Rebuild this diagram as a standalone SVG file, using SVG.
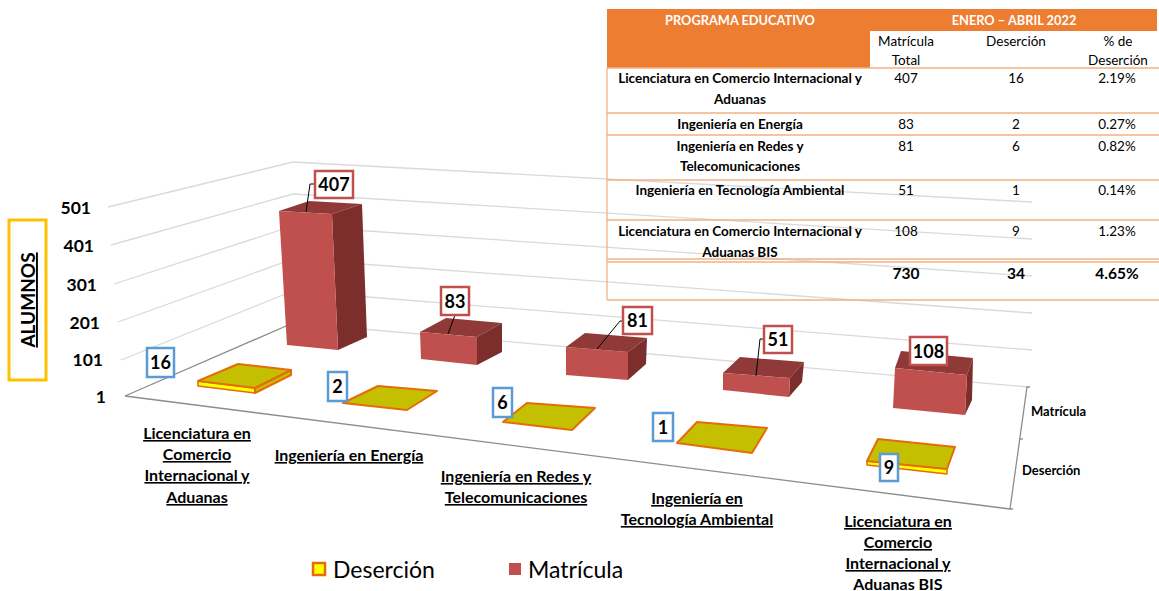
<svg xmlns="http://www.w3.org/2000/svg" width="1159" height="591" viewBox="0 0 1159 591">
<style>
text{font-family:Lato,"Liberation Sans",sans-serif;fill:#000}
.grid{stroke:#D9D9D9;stroke-width:1.3;fill:none}
.axis{stroke:#8C8C8C;stroke-width:1.3;fill:none}
.bf{fill:#C0504D}.bt{fill:#8F3A38}.bs{fill:#7B2E2C}
.pt{fill:#C4BF00;stroke:#E46C0A;stroke-width:2;stroke-linejoin:round}
.pf{fill:#FFFF00;stroke:#E46C0A;stroke-width:1.5;stroke-linejoin:round}
.lb{fill:#fff;stroke:#5B9BD5;stroke-width:2.5}
.lr{fill:#fff;stroke:#C0504D;stroke-width:2.5}
.dl{font-size:18px;font-weight:bold;text-anchor:middle}
.leader{stroke:#000;stroke-width:1;fill:none}
.cat{font-size:16px;font-weight:bold;text-decoration:underline;text-anchor:middle}
.yl{font-size:17.5px;font-weight:bold;text-anchor:end}
.th{font-size:12.8px;font-weight:bold;fill:#fff;text-anchor:middle}
.tp{font-size:13.5px;font-weight:bold;text-anchor:middle}
.tv{font-size:13.5px;text-anchor:middle}
.tt{font-size:15.5px;font-weight:bold;text-anchor:middle}
.tl{stroke:#F4B183;stroke-width:1.3;fill:none}
</style>

<g id="grid">
<line class="grid" x1="121" y1="360" x2="293" y2="291"/>
<line class="grid" x1="118" y1="322" x2="293" y2="259"/>
<line class="grid" x1="114" y1="284" x2="293" y2="226"/>
<line class="grid" x1="111" y1="245" x2="293" y2="194"/>
<line class="grid" x1="108" y1="207" x2="293" y2="162"/>
<line class="grid" x1="293" y1="291" x2="1032" y2="350"/>
<line class="grid" x1="293" y1="259" x2="1032" y2="313"/>
<line class="grid" x1="293" y1="226" x2="1032" y2="276"/>
<line class="grid" x1="293" y1="194" x2="1032" y2="239"/>
<line class="grid" x1="293" y1="162" x2="1032" y2="202"/>
<line class="grid" x1="293" y1="323" x2="1028" y2="387"/>
<line class="axis" x1="125" y1="396" x2="293" y2="323"/>
<line class="axis" x1="125" y1="396" x2="1010" y2="509"/>
<polyline class="axis" points="1030,387 1027,387 1010,509 1013,509"/>
<line class="axis" x1="1019" y1="439" x2="1023" y2="439"/>
</g>

<g id="table">
<rect x="607" y="9" width="550" height="22" fill="#ED7D31"/>
<rect x="607" y="9" width="263" height="59" fill="#ED7D31"/>
<text class="th" x="740" y="24.5">PROGRAMA EDUCATIVO</text>
<text class="th" x="1014" y="24.5">ENERO – ABRIL 2022</text>
<text class="tv" x="906" y="46">Matrícula</text>
<text class="tv" x="906" y="65">Total</text>
<text class="tv" x="1016" y="46">Deserción</text>
<text class="tv" x="1118" y="46">% de</text>
<text class="tv" x="1118" y="65">Deserción</text>
<line class="tl" x1="607" y1="68" x2="1159" y2="68"/>
<line class="tl" x1="607" y1="113" x2="1159" y2="113"/>
<line class="tl" x1="607" y1="135" x2="1159" y2="135"/>
<line class="tl" x1="607" y1="180" x2="1159" y2="180"/>
<line class="tl" x1="607" y1="220" x2="1159" y2="220"/>
<line class="tl" x1="607" y1="259" x2="1159" y2="259"/>
<line class="tl" x1="607" y1="262" x2="1159" y2="262"/>
<line class="tl" x1="607" y1="300" x2="1159" y2="300"/>
<line class="tl" x1="607" y1="68" x2="607" y2="300"/>
<text class="tp" x="740" y="83">Licenciatura en Comercio Internacional y</text>
<text class="tp" x="740" y="104">Aduanas</text>
<text class="tv" x="906" y="83">407</text>
<text class="tv" x="1016" y="83">16</text>
<text class="tv" x="1117" y="83">2.19%</text>
<text class="tp" x="740" y="129">Ingeniería en Energía</text>
<text class="tv" x="906" y="129">83</text>
<text class="tv" x="1016" y="129">2</text>
<text class="tv" x="1117" y="129">0.27%</text>
<text class="tp" x="740" y="151">Ingeniería en Redes y</text>
<text class="tp" x="740" y="171">Telecomunicaciones</text>
<text class="tv" x="906" y="151">81</text>
<text class="tv" x="1016" y="151">6</text>
<text class="tv" x="1117" y="151">0.82%</text>
<text class="tp" x="740" y="195">Ingeniería en Tecnología Ambiental</text>
<text class="tv" x="906" y="195">51</text>
<text class="tv" x="1016" y="195">1</text>
<text class="tv" x="1117" y="195">0.14%</text>
<text class="tp" x="740" y="236">Licenciatura en Comercio Internacional y</text>
<text class="tp" x="740" y="257">Aduanas BIS</text>
<text class="tv" x="906" y="236">108</text>
<text class="tv" x="1016" y="236">9</text>
<text class="tv" x="1117" y="236">1.23%</text>
<text class="tt" x="906" y="279">730</text>
<text class="tt" x="1016" y="279">34</text>
<text class="tt" x="1117" y="279">4.65%</text>
</g>

<g id="y-axis">
<rect x="9" y="220" width="37" height="160" fill="none" stroke="#FFC000" stroke-width="3"/>
<text transform="translate(35,300) rotate(-90)" font-size="19" font-weight="bold" text-anchor="middle" text-decoration="underline">ALUMNOS</text>
<text class="yl" x="91" y="214">501</text>
<text class="yl" x="94" y="252">401</text>
<text class="yl" x="97" y="291">301</text>
<text class="yl" x="100" y="329">201</text>
<text class="yl" x="103" y="366">101</text>
<text class="yl" x="106" y="403">1</text>
</g>

<g id="bar-matricula-1">
<polygon class="bt" points="279,211 309,201 362,204 332,214"/>
<polygon class="bs" points="332,214 362,204 367,337 338,350"/>
<polygon class="bf" points="279,211 332,214 338,350 287,345"/>
</g>
<g id="bar-matricula-2">
<polygon class="bt" points="420,332 446,318 502,323 477,337"/>
<polygon class="bs" points="477,337 502,323 502,352 477,365"/>
<polygon class="bf" points="420,332 477,337 477,365 421,359"/>
</g>
<g id="bar-matricula-3">
<polygon class="bt" points="566,347 585,333 647,338 628,352"/>
<polygon class="bs" points="628,352 647,338 646,364 628,380"/>
<polygon class="bf" points="566,347 628,352 628,380 566,375"/>
</g>
<g id="bar-matricula-4">
<polygon class="bt" points="723,373 740,357 804,362 790,378"/>
<polygon class="bs" points="790,378 804,362 802,382 789,397"/>
<polygon class="bf" points="723,373 790,378 789,397 723,390"/>
</g>
<g id="bar-matricula-5">
<polygon class="bt" points="895,368 901,351 973,358 967,375"/>
<polygon class="bs" points="967,375 973,358 972,400 965,415"/>
<polygon class="bf" points="895,368 967,375 965,415 893,408"/>
</g>

<g id="bar-desercion-1">
<polygon class="pf" points="198,381 255,388 255,393 198,386"/>
<polygon class="pt" points="255,388 291,370 291,375 255,393"/>
<polygon class="pt" points="198,381 238,364 291,370 255,388"/>
</g>
<g id="bar-desercion-2">
<polygon class="pt" points="343,403 378,386 437,391 407,410"/>
</g>
<g id="bar-desercion-3">
<polygon class="pt" points="503,422 527,403 595,408 572,430"/>
</g>
<g id="bar-desercion-4">
<polygon class="pt" points="677,443 697,422 767,428 752,453"/>
</g>
<g id="bar-desercion-5">
<polygon class="pf" points="867,461 947,469 947,474 867,465"/>
<polygon class="pt" points="867,461 878,439 955,447 947,469"/>
</g>

<g id="connectors">
<polyline class="leader" points="315,184 310,184 306,212"/>
<polyline class="leader" points="455,315 448,334"/>
<polyline class="leader" points="623,321 620,321 597,349"/>
<polyline class="leader" points="764,339 760,339 756,376"/>
</g>

<g id="label-407"><rect class="lr" x="315" y="171" width="38" height="27"/><text class="dl" x="334" y="191">407</text></g>
<g id="label-83"><rect class="lr" x="441" y="287" width="28" height="28"/><text class="dl" x="455" y="307.5">83</text></g>
<g id="label-81"><rect class="lr" x="623" y="307" width="29" height="27"/><text class="dl" x="637.5" y="327">81</text></g>
<g id="label-51"><rect class="lr" x="764" y="326" width="28" height="27"/><text class="dl" x="778" y="346">51</text></g>
<g id="label-108"><rect class="lr" x="910" y="337" width="37" height="28"/><text class="dl" x="928.5" y="357.5">108</text></g>
<g id="label-16"><rect class="lb" x="147" y="348" width="27" height="29"/><text class="dl" x="160.5" y="369">16</text></g>
<g id="label-2"><rect class="lb" x="328" y="372" width="19" height="29"/><text class="dl" x="337.5" y="393">2</text></g>
<g id="label-6"><rect class="lb" x="493" y="388" width="19" height="29"/><text class="dl" x="502.5" y="409">6</text></g>
<g id="label-1"><rect class="lb" x="653" y="413" width="20" height="28"/><text class="dl" x="663" y="433.5">1</text></g>
<g id="label-9"><rect class="lb" x="880" y="454" width="18" height="27"/><text class="dl" x="889" y="474">9</text></g>

<g id="categories">
<text class="cat" x="197" y="439">Licenciatura en</text>
<text class="cat" x="197" y="460">Comercio</text>
<text class="cat" x="197" y="481">Internacional y</text>
<text class="cat" x="197" y="503">Aduanas</text>
<text class="cat" x="349" y="461">Ingeniería en Energía</text>
<text class="cat" x="516" y="482">Ingeniería en Redes y</text>
<text class="cat" x="516" y="503">Telecomunicaciones</text>
<text class="cat" x="697" y="504">Ingeniería en</text>
<text class="cat" x="697" y="525">Tecnología Ambiental</text>
<text class="cat" x="898" y="527">Licenciatura en</text>
<text class="cat" x="898" y="548">Comercio</text>
<text class="cat" x="898" y="569">Internacional y</text>
<text class="cat" x="898" y="590">Aduanas BIS</text>
</g>

<g id="series-axis">
<text x="1031" y="416" font-size="13" font-weight="bold">Matrícula</text>
<text x="1022" y="475" font-size="13" font-weight="bold">Deserción</text>
</g>

<g id="legend">
<rect x="313" y="563" width="12" height="12" fill="#FFFF00" stroke="#E46C0A" stroke-width="2.5"/>
<text x="333" y="578" font-size="23">Deserción</text>
<rect x="509" y="563" width="12" height="12" fill="#C0504D"/>
<text x="528" y="578" font-size="23">Matrícula</text>
</g>
</svg>
